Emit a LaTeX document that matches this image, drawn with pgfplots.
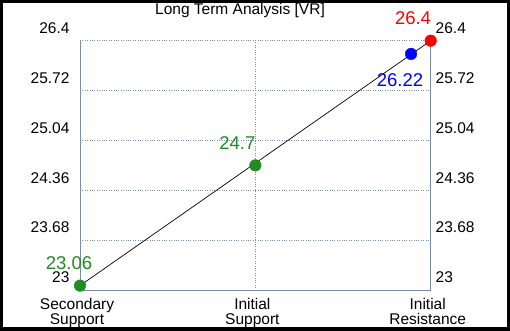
\documentclass[border=0pt]{standalone}
\usepackage{pgfplots}
\pgfplotsset{compat=1.18}
\usepackage{fontspec}
\setmainfont{Liberation Sans}
\definecolor{gridc}{RGB}{120,140,176}
\definecolor{ggreen}{RGB}{34,139,34}
\begin{document}
\begin{tikzpicture}[x=1pt,y=1pt]
\useasboundingbox (0,0) rectangle (510,330);
\fill[white] (0,0) rectangle (510,330);
\begin{axis}[
  at={(80pt,40pt)}, anchor=south west,
  scale only axis, width=350.7pt, height=249.3pt,
  xmin=0, xmax=2, ymin=23, ymax=26.4,
  clip=false,
  axis line style={draw=none},
  major tick length=0pt,
  xtick={0,1,2},
  xticklabels={{Secondary\\Support},{Initial\\Support},{Initial\\Resistance}},
  xticklabel style={align=center, font=\fontsize{15.5}{14.5}\selectfont, yshift=-5pt, xshift=-3pt},
  ytick={23,23.68,24.36,25.04,25.72,26.4},
  yticklabels={23,23.68,24.36,25.04,25.72,26.4},
  yticklabel style={font=\fontsize{15.5}{15.5}\selectfont, yshift=12.5pt, xshift=-7pt},
  xmajorgrids, ymajorgrids,
  grid style={gridc, dotted, line width=0.8pt},
]
\draw[gridc, line width=0.9pt] (rel axis cs:0,1) -- (rel axis cs:0,0) -- (rel axis cs:1,0) -- (rel axis cs:1,1);
\addplot[black, line width=0.7pt, no marks] coordinates {(0,23.06) (2,26.4)};
\addplot[only marks, mark=*, mark size=5.8pt, ggreen, mark options={fill=ggreen, draw=ggreen}] coordinates {(0,23.06) (1,24.7)};
\addplot[only marks, mark=*, mark size=5.8pt, blue, mark options={fill=blue, draw=blue}] coordinates {(1.888,26.22)};
\addplot[only marks, mark=*, mark size=5.8pt, red, mark options={fill=red, draw=red}] coordinates {(2,26.4)};
\node[red, font=\fontsize{18.5}{18.5}\selectfont, xshift=-17.7pt, yshift=22.4pt] at (axis cs:2,26.4) {26.4};
\node[blue, font=\fontsize{18.5}{18.5}\selectfont, xshift=-11pt, yshift=-26.7pt] at (axis cs:1.888,26.22) {26.22};
\node[ggreen, font=\fontsize{18.5}{18.5}\selectfont, xshift=-18pt, yshift=22pt] at (axis cs:1,24.7) {24.7};
\node[ggreen, font=\fontsize{18.5}{18.5}\selectfont, xshift=-11pt, yshift=22pt] at (axis cs:0,23.06) {23.06};
\end{axis}
\begin{axis}[
  at={(80pt,40pt)}, anchor=south west,
  scale only axis, width=350.7pt, height=249.3pt,
  xmin=0, xmax=2, ymin=23, ymax=26.4,
  axis line style={draw=none},
  major tick length=0pt,
  xtick=\empty,
  yticklabel pos=right,
  ytick={23,23.68,24.36,25.04,25.72,26.4},
  yticklabels={23,23.68,24.36,25.04,25.72,26.4},
  yticklabel style={font=\fontsize{15.5}{15.5}\selectfont, yshift=12.5pt, xshift=1.5pt},
]
\end{axis}
\node[anchor=base, font=\fontsize{15.5}{16}\selectfont] at (240,315) {Long Term Analysis [VR]};
\draw[black, line width=6pt] (0,0) rectangle (510,330);
\end{tikzpicture}
\end{document}
